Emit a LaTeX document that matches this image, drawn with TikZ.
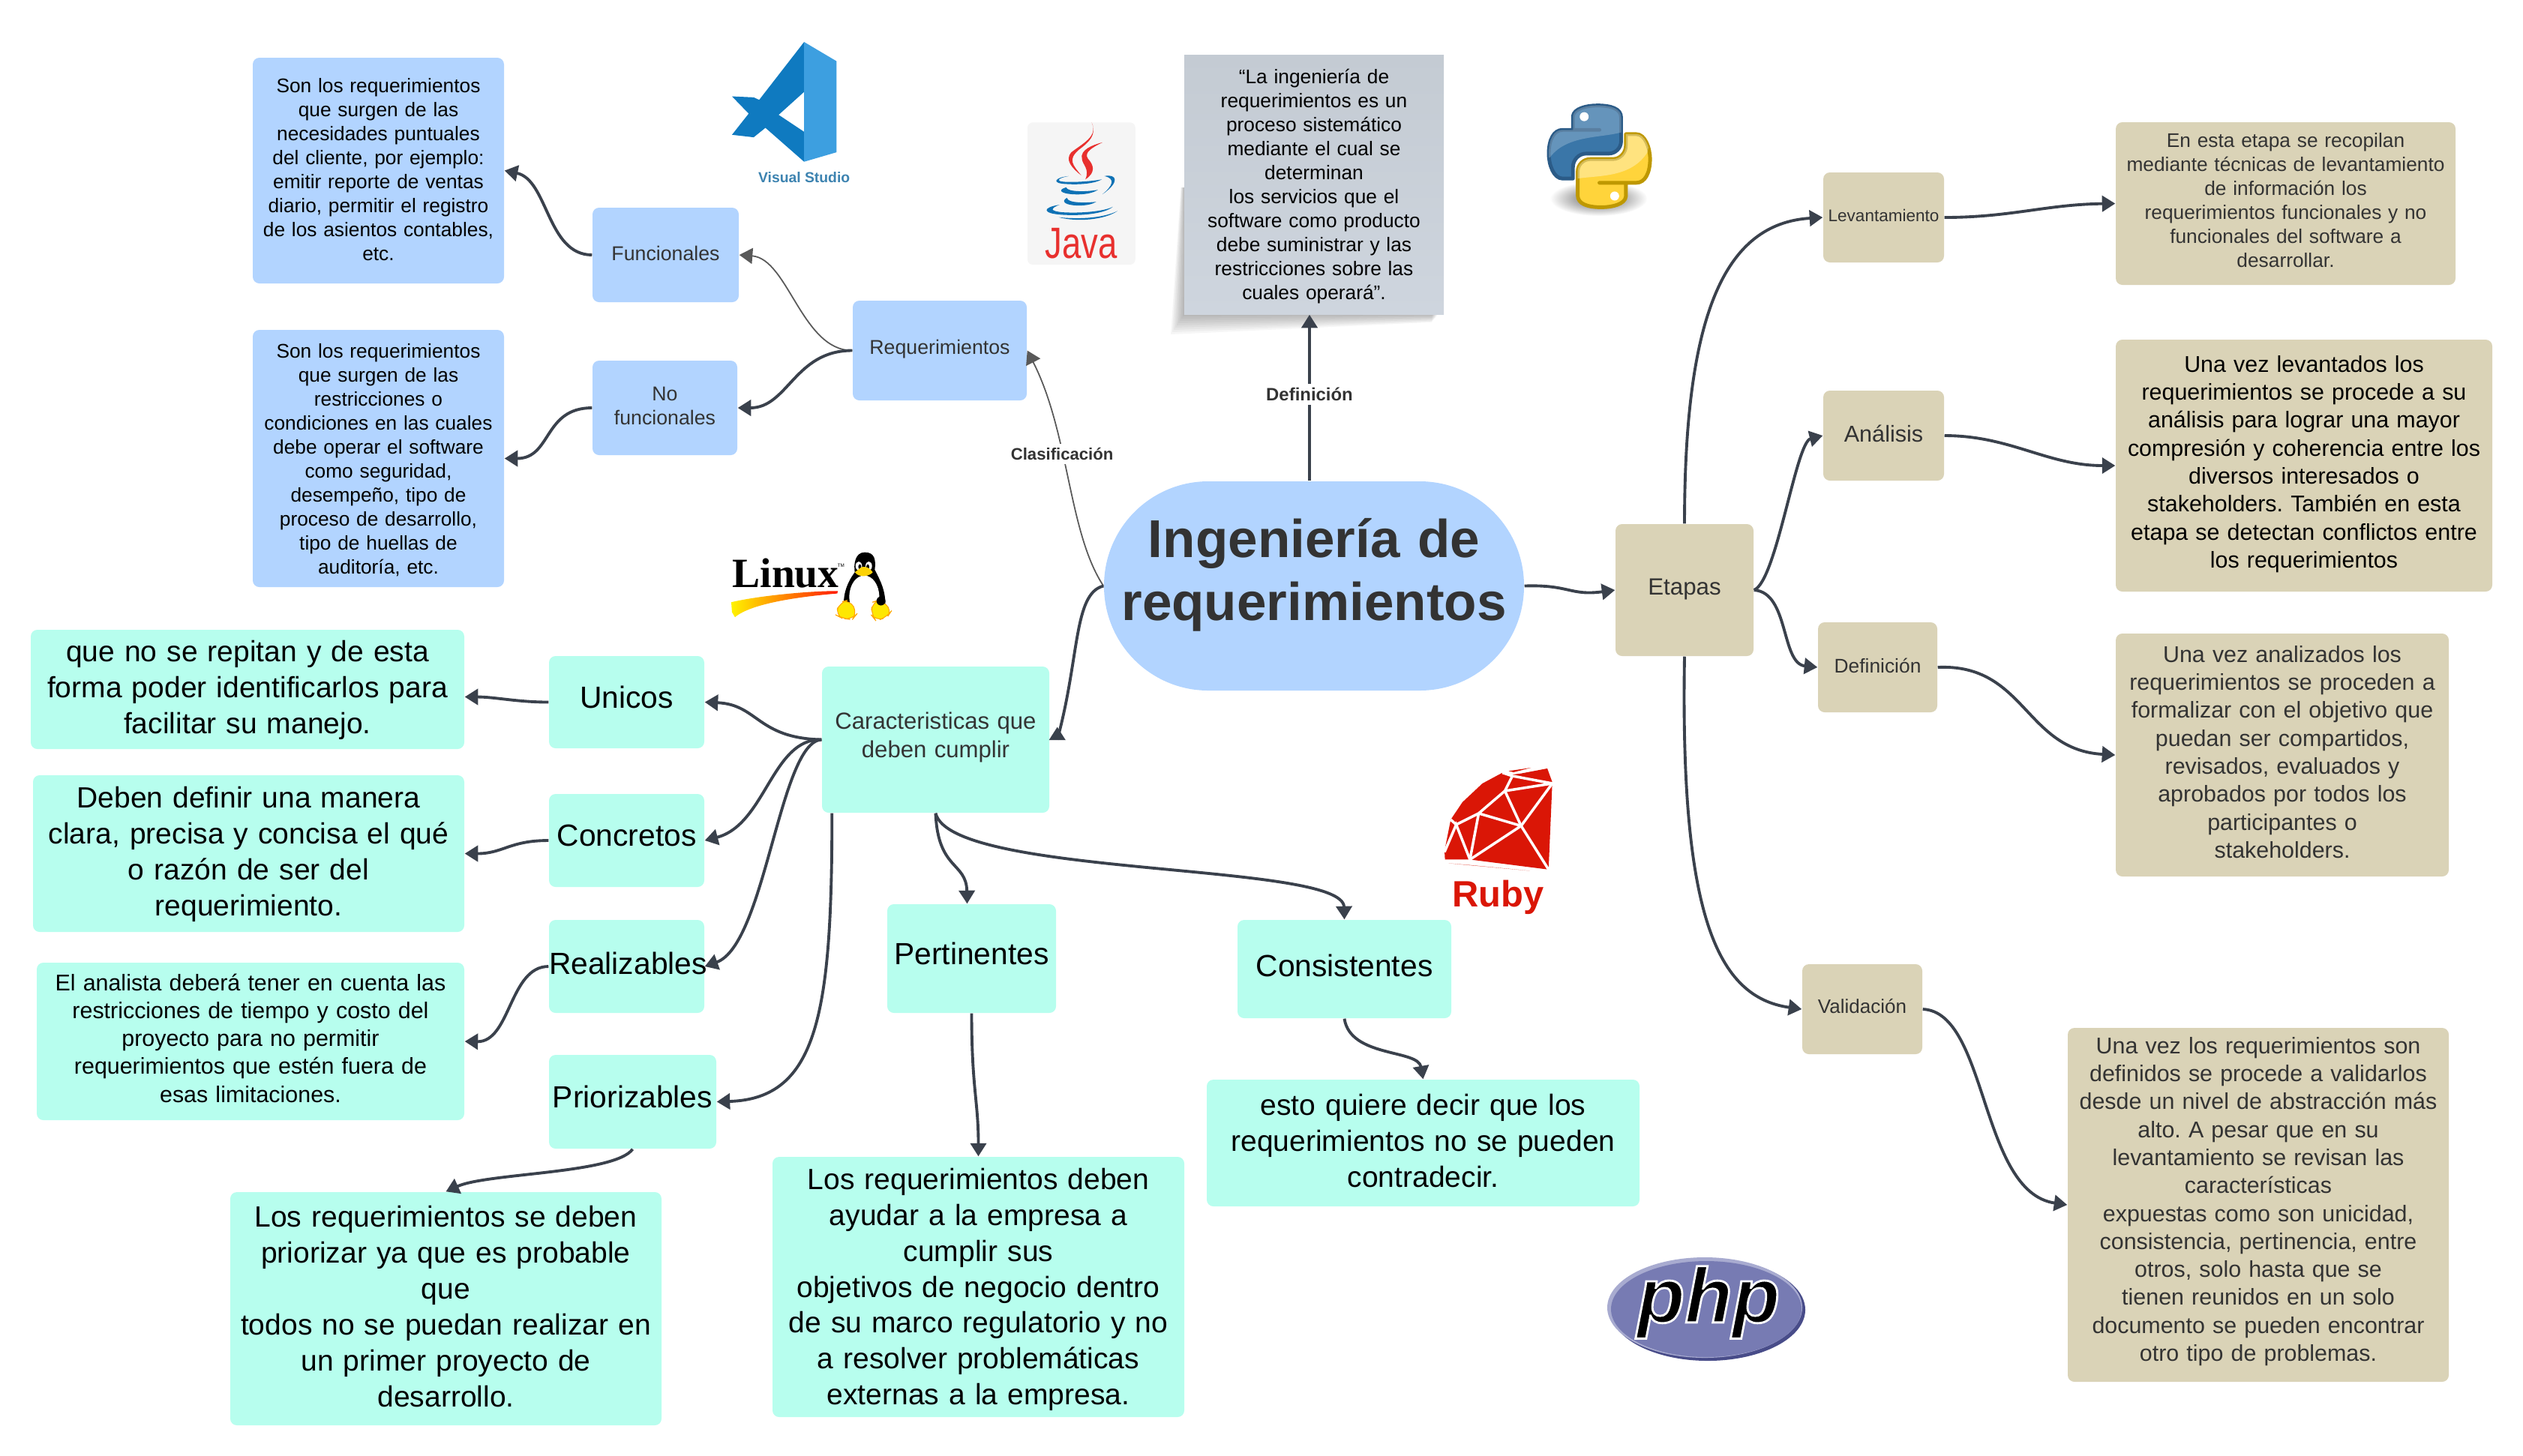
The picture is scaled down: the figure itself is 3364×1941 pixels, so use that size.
\documentclass[tikz,border=0pt]{standalone}
\usepackage{fontspec}
\setmainfont{Liberation Sans}
\newfontfamily\serifbold{Liberation Serif}
\usetikzlibrary{arrows.meta}
\usetikzlibrary{calc}

\newdimen\pxu
\pxu=0.01cm

\definecolor{boxblue}{HTML}{B2D4FF}
\definecolor{boxmint}{HTML}{B7FEEE}
\definecolor{boxtan}{HTML}{DAD3B7}
\definecolor{quotetop}{HTML}{C4CBD3}
\definecolor{quotebot}{HTML}{CED5DE}
\definecolor{linkdark}{HTML}{3A414C}
\definecolor{linkgrey}{HTML}{595959}
\definecolor{txtdark}{HTML}{333333}
\definecolor{rubyred}{HTML}{DA1606}
\definecolor{javared}{HTML}{E8302E}
\definecolor{javablue}{HTML}{0F72B5}
\definecolor{vsdark}{HTML}{0F7AC0}
\definecolor{vslight}{HTML}{3D9FE0}
\definecolor{vstxt}{HTML}{3D83B0}
\definecolor{pyblue}{HTML}{3A76A8}
\definecolor{pyblueline}{HTML}{2B5B87}
\definecolor{pyyellow}{HTML}{FFD43B}
\definecolor{pyyellowline}{HTML}{BE9800}
\definecolor{phpmain}{HTML}{777BB3}
\definecolor{phpdark}{HTML}{484C89}
\definecolor{phplight}{HTML}{A8ABD0}

\newcommand{\pysnake}{(172,160) -- (172,105) .. controls (175,75) and (225,62) .. (270,62) .. controls (325,62) and (365,75) .. (365,110) -- (365,205) .. controls (365,235) and (340,255) .. (315,255) -- (225,255) .. controls (195,255) and (172,280) .. (172,310) -- (172,355) -- (130,355) .. controls (95,355) and (75,300) .. (75,255) .. controls (75,200) and (95,160) .. (130,160) -- (278,160) -- cycle}

\tikzset{
    sized/.style 2 args={minimum width=#1\pxu, minimum height=#2\pxu, text width=#1\pxu, inner sep=0pt, align=center, rounded corners=2.5pt},
    lift/.style={execute at end node={\par\vskip#1\pxu\hrule height 0pt}},
    smalltxt/.style={font=\fontsize{7.48}{9.1}\selectfont},
    midtxt/.style={font=\fontsize{8.65}{10.6}\selectfont},
    bigtxt/.style={font=\fontsize{11.1}{13.6}\selectfont},
    bluebox/.style={fill=boxblue, text=txtdark},
    mintbox/.style={fill=boxmint, text=black},
    tanbox/.style={fill=boxtan, text=txtdark},
    link/.style={draw=linkdark, line width=1.1pt, -{Triangle[length=5pt,width=6pt]}},
    thinlink/.style={draw=linkgrey, line width=.5pt, -{Triangle[length=5pt,width=6pt]}},
    edgelabel/.style={fill=white, inner sep=1.5pt, text=txtdark, font=\fontsize{#1}{8}\selectfont\bfseries},
    zoomed/.style={shift={#1}, x=0.00333cm, y=-0.00333cm},
}

\begin{document}
\frenchspacing
\begin{tikzpicture}[x=0.01cm,y=-0.01cm]
    \useasboundingbox (0,0) rectangle (3364,1941);

    % soft shadow of the quote
    \foreach \j in {1,...,9}
        \fill[black, opacity=.035] (1585,250) -- ({1579-.5*\j},250) -- ({1579-2*\j},{419+3*\j}) -- ({1918-\j},{419+1.2*\j}) -- (1918,300) -- cycle;

    % centre
    \node[bluebox, sized={560}{279}, lift=30, rounded corners=1.39cm, font=\fontsize{20.2}{23.8}\selectfont\bfseries] (main) at (1752,781.5) {Ingeniería de\\requerimientos};
    \node[sized={346}{346}, lift=-6, rounded corners=0pt, smalltxt, top color=quotetop, bottom color=quotebot, text=black] (quote) at (1752,246) {“La ingeniería de\\requerimientos es un\\proceso sistemático\\mediante el cual se\\determinan\\los servicios que el\\software como producto\\debe suministrar y las\\restricciones sobre las\\cuales operará”.};

    % blue branch
    \node[bluebox, sized={232}{133}, lift=4, font=\fontsize{7.6}{9}\selectfont] (req) at (1253,467.5) {Requerimientos};
    \node[bluebox, sized={195}{126}, lift=4, font=\fontsize{7.6}{9}\selectfont] (func) at (887.5,340) {Funcionales};
    \node[bluebox, sized={193}{126}, lift=6, font=\fontsize{7.6}{9.1}\selectfont] (nofunc) at (886.5,544) {No\\funcionales};
    \node[bluebox, sized={335}{301}, lift=2, smalltxt, text=black] (functxt) at (504.5,227.5) {Son los requerimientos\\que surgen de las\\necesidades puntuales\\del cliente, por ejemplo:\\emitir reporte de ventas\\diario, permitir el registro\\de los asientos contables,\\etc.};
    \node[bluebox, sized={335}{343}, lift=-4, smalltxt, text=black] (nofunctxt) at (504.5,611.5) {Son los requerimientos\\que surgen de las\\restricciones o\\condiciones en las cuales\\debe operar el software\\como seguridad,\\desempeño, tipo de\\proceso de desarrollo,\\tipo de huellas de\\auditoría, etc.};

    % mint branch
    \node[mintbox, sized={303}{195}, lift=6, font=\fontsize{8.85}{10.6}\selectfont, text=txtdark] (carac) at (1247.5,986.5) {Caracteristicas que\\deben cumplir};
    \node[mintbox, sized={207}{123}, lift=13, font=\fontsize{11.6}{13}\selectfont] (unicos) at (835.5,936.5) {Unicos};
    \node[mintbox, sized={207}{124}, lift=13, font=\fontsize{11.6}{13}\selectfont] (concretos) at (835.5,1121) {Concretos};
    \node[mintbox, sized={207}{124}, lift=9, font=\fontsize{11.6}{13}\selectfont] (realiz) at (835.5,1289) {Realizables};
    \node[mintbox, sized={223}{125}, lift=13, font=\fontsize{11.6}{13}\selectfont] (prior) at (843.5,1469.5) {Priorizables};
    \node[mintbox, sized={225}{145}, lift=13, font=\fontsize{11.6}{13}\selectfont] (pert) at (1295.5,1278.5) {Pertinentes};
    \node[mintbox, sized={285}{131}, lift=9, font=\fontsize{11.6}{13}\selectfont] (consis) at (1792.5,1292.5) {Consistentes};
    \node[mintbox, sized={578}{159}, lift=-2, bigtxt] (unicostxt) at (330,919.5) {que no se repitan y de esta\\forma poder identificarlos para\\facilitar su manejo.};
    \node[mintbox, sized={575}{209}, lift=-2, bigtxt] (concretostxt) at (331.5,1138.5) {Deben definir una manera\\clara, precisa y concisa el qué\\o razón de ser del\\requerimiento.};
    \node[mintbox, sized={570}{210}, lift=9, midtxt] (realiztxt) at (334,1389) {El analista deberá tener en cuenta las\\restricciones de tiempo y costo del\\proyecto para no permitir\\requerimientos que estén fuera de\\esas limitaciones.};
    \node[mintbox, sized={575}{311}, lift=6, bigtxt] (priortxt) at (594.5,1745.5) {Los requerimientos se deben\\priorizar ya que es probable\\que\\todos no se puedan realizar en\\un primer proyecto de\\desarrollo.};
    \node[mintbox, sized={549}{347}, lift=-7, bigtxt] (perttxt) at (1304.5,1716.5) {Los requerimientos deben\\ayudar a la empresa a\\cumplir sus\\objetivos de negocio dentro\\de su marco regulatorio y no\\a resolver problemáticas\\externas a la empresa.};
    \node[mintbox, sized={577}{169}, lift=6, bigtxt] (consistxt) at (1897.5,1524.5) {esto quiere decir que los\\requerimientos no se pueden\\contradecir.};

    % tan branch
    \node[tanbox, sized={184}{176}, lift=2, font=\fontsize{8.9}{10}\selectfont] (etapas) at (2246,787) {Etapas};
    \node[tanbox, sized={161}{120}, lift=6, font=\fontsize{6.4}{8}\selectfont] (levant) at (2511.5,290) {Levantamiento};
    \node[tanbox, sized={161}{120}, lift=6, font=\fontsize{8.7}{10}\selectfont] (analisis) at (2511.5,581) {Análisis};
    \node[tanbox, sized={159}{120}, lift=4, font=\fontsize{7.5}{9}\selectfont] (defin) at (2503.5,890) {Definición};
    \node[tanbox, sized={160}{120}, lift=8, font=\fontsize{7.4}{9}\selectfont] (valid) at (2483,1346) {Validación};
    \node[tanbox, sized={453}{217}, lift=9, smalltxt] (levanttxt) at (3047.5,271.5) {En esta etapa se recopilan\\mediante técnicas de levantamiento\\de información los\\requerimientos funcionales y no\\funcionales del software a\\desarrollar.};
    \node[tanbox, sized={502}{336}, lift=4, midtxt, text=black] (analisistxt) at (3072,621) {Una vez levantados los\\requerimientos se procede a su\\análisis para lograr una mayor\\compresión y coherencia entre los\\diversos interesados o\\stakeholders. También en esta\\etapa se detectan conflictos entre\\los requerimientos};
    \node[tanbox, sized={444}{324}, lift=8, midtxt] (defintxt) at (3043,1007) {Una vez analizados los\\requerimientos se proceden a\\formalizar con el objetivo que\\puedan ser compartidos,\\revisados, evaluados y\\aprobados por todos los\\participantes o\\stakeholders.};
    \node[tanbox, sized={508}{472}, lift=9, midtxt] (validtxt) at (3011,1607) {Una vez los requerimientos son\\definidos se procede a validarlos\\desde un nivel de abstracción más\\alto. A pesar que en su\\levantamiento se revisan las\\características\\expuestas como son unicidad,\\consistencia, pertinencia, entre\\otros, solo hasta que se\\tienen reunidos en un solo\\documento se pueden encontrar\\otro tipo de problemas.};

    % connectors
    \draw[link] ([shift={(-6,0)}]main.north) -- node[pos=.52, edgelabel=6.8] (deflabel) {Definición} ([shift={(-6,0)}]quote.south);
    \draw[thinlink] (main.west) .. controls +(-47,-71) and +(56,110) .. node[pos=.6, edgelabel=6.3] (claslabel) {Clasificación} (req.east);
    \draw[link, -] (main.west) .. controls +(-40,10) and +(30,-110) .. ([shift={(10,0)}]carac.east);
    \draw[link] ([shift={(10,0)}]carac.east) -- ++(0,-17);
    \draw[link] (main.east) .. controls +(60,-2) and +(-60,8) .. (etapas.west);

    \draw[thinlink] (req.west) .. controls +(-67,0) and +(65,5) .. (func.east);
    \draw[link] (req.west) .. controls +(-77,0) and +(67,0) .. (nofunc.east);
    \draw[link] (func.west) .. controls +(-60,0) and +(58,12) .. (functxt.east);
    \draw[link] (nofunc.west) .. controls +(-65,0) and +(63,0) .. (nofunctxt.east);

    \draw[link] (carac.west) .. controls +(-86,-2) and +(71,3) .. (unicos.east);
    \draw[link] (carac.west) .. controls +(-66,-2) and +(81,-21) .. (concretos.east);
    \draw[link] (carac.west) .. controls +(-56,3) and +(81,-29) .. (realiz.east);
    \draw[link] ([shift={(14,0)}]carac.south west) .. controls +(0,266) and +(135,-4) .. (prior.east);
    \draw[link] (carac.south) .. controls +(3,76) and +(-1,-56) .. ([shift={(-6,0)}]pert.north);
    \draw[link] (carac.south) .. controls +(21,86) and +(-2,-77) .. (consis.north);

    \draw[link] (unicos.west) .. controls +(-42,0) and +(40,0) .. ([shift={(0,10)}]unicostxt.east);
    \draw[link] (concretos.west) .. controls +(-52,0) and +(51,0) .. (concretostxt.east);
    \draw[link] (realiz.west) .. controls +(-52,0) and +(61,1) .. (realiztxt.east);
    \draw[link] (prior.south) .. controls +(-24,33) and +(55,-25) .. (priortxt.north);
    \draw[link] (pert.south) .. controls +(0,99) and +(0,-73) .. (perttxt.north);
    \draw[link] (consis.south) .. controls +(8,52) and +(-7,-40) .. (consistxt.north);

    \draw[link] (etapas.north) .. controls +(0,-279) and +(-131,8) .. (levant.west);
    \draw[link] (etapas.east) .. controls +(30,-12) and +(-36,9) .. (analisis.west);
    \draw[link] (etapas.east) .. controls +(47,3) and +(-49,-5) .. (defin.west);
    \draw[link] (etapas.south) .. controls +(-6,345) and +(-113,-16) .. (valid.west);
    \draw[link] (levant.east) .. controls +(88,0) and +(-91,1) .. (levanttxt.west);
    \draw[link] (analisis.east) .. controls +(88,0) and +(-91,0) .. (analisistxt.west);
    \draw[link] (defin.east) .. controls +(117,-5) and +(-121,-7) .. (defintxt.west);
    \draw[link] (valid.east) .. controls +(87,4) and +(-117,-17) .. (validtxt.west);

    % Visual Studio logo
    \begin{scope}[zoomed={(950,40)}]
        \fill[vsdark] (367,48) -- (367,248) -- (265,340) -- (367,408) -- (367,528) -- (212,392) -- (165,430) -- (78,420) -- (145,335) -- (78,266) -- (165,270) -- (187,280) -- cycle;
        \fill[vslight] (367,48) -- (497,125) -- (497,490) -- (367,528) -- cycle;
        \node[text=vstxt, font=\fontsize{5.5}{7}\selectfont\bfseries] (vstext) at (367,592) {Visual Studio};
    \end{scope}

    % Java logo
    \begin{scope}[zoomed={(1360,150)}]
        \fill[black!4, rounded corners=2pt] (30,40) rectangle (462,610);
        \fill[javared] (287,40) .. controls (315,95) and (250,125) .. (205,160) .. controls (180,190) and (205,220) .. (245,252) .. controls (212,210) and (190,190) .. (235,150) .. controls (275,120) and (310,90) .. (287,40);
        \fill[javared] (330,120) .. controls (290,130) and (240,150) .. (248,185) .. controls (250,210) and (280,225) .. (262,268) .. controls (305,240) and (295,210) .. (272,185) .. controls (255,160) and (290,140) .. (330,120);
        \fill[javablue] (195,255) .. controls (140,260) and (120,285) .. (190,287) .. controls (240,290) and (300,285) .. (328,268) .. controls (280,278) and (150,285) .. (155,270) .. controls (160,262) and (180,258) .. (195,255);
        \fill[javablue] (338,255) .. controls (390,245) and (400,280) .. (330,328) .. controls (370,295) and (385,265) .. (338,255);
        \fill[javablue] (185,300) .. controls (150,310) and (160,325) .. (215,328) .. controls (250,330) and (290,325) .. (312,310) .. controls (270,318) and (190,320) .. (185,300);
        \fill[javablue] (188,342) .. controls (165,355) and (175,372) .. (235,373) .. controls (265,373) and (290,368) .. (305,358) .. controls (270,362) and (190,365) .. (188,342);
        \fill[javablue] (158,370) .. controls (90,380) and (85,405) .. (170,410) .. controls (250,415) and (340,405) .. (372,378) .. controls (340,395) and (250,405) .. (170,400) .. controls (120,395) and (120,385) .. (158,370);
        \fill[javablue] (155,420) .. controls (230,440) and (340,430) .. (390,395) .. controls (340,420) and (250,430) .. (155,420);
        \node[text=javared, xscale=.78, font=\fontsize{16.6}{18}\selectfont] (javatext) at (245,525) {Java};
    \end{scope}

    % Python logo
    \begin{scope}[zoomed={(2040,120)}]
        \shade[inner color=black!65, outer color=white] (275,435) ellipse (195 and 70);
        \filldraw[fill=pyblue, draw=pyblueline, line width=1.4pt, line join=round] \pysnake;
        \begin{scope}
            \clip \pysnake;
            \fill[white, opacity=.22] (60,40) -- (380,40) -- (380,165) .. controls (300,195) and (150,175) .. (80,270) -- (60,270) -- cycle;
        \end{scope}
        \fill[white] (217,107) circle (18);
        \begin{scope}[rotate around={180:(278,266)}]
            \filldraw[fill=pyyellow, draw=pyyellowline, line width=1.4pt, line join=round] \pysnake;
            \begin{scope}
                \clip \pysnake;
                \fill[white, opacity=.35] (366,177) .. controls (280,190) and (150,180) .. (86,282) -- (60,400) -- (380,400) -- cycle;
            \end{scope}
            \fill[white] (217,107) circle (18);
        \end{scope}
    \end{scope}

    % Linux logo
    \begin{scope}[zoomed={(960,720)}]
        \node[text=black, font=\fontsize{15.8}{18}\selectfont\serifbold\bfseries] (linuxtext) at (263,135) {Linux};
        \node[text=black, font=\fontsize{1.8}{2}\selectfont] (linuxtm) at (485,103) {TM};
        \shade[left color=yellow!90!orange, right color=red!80!orange] (45,250) .. controls (150,225) and (350,205) .. (472,205) -- (470,215) .. controls (350,225) and (130,250) .. (60,310) -- (48,290) -- cycle;
        \fill[black] (580,50) .. controls (540,50) and (535,100) .. (540,130) .. controls (510,170) and (490,220) .. (497,280) -- (660,280) .. controls (670,210) and (640,160) .. (620,120) .. controls (625,80) and (620,50) .. (580,50);
        \fill[white] (578,228) ellipse (60 and 85);
        \fill[white] (556,105) ellipse (13 and 18) (596,105) ellipse (13 and 18);
        \fill[black] (560,108) ellipse (6 and 10) (592,108) ellipse (6 and 10);
        \fill[yellow!70!orange] (540,130) .. controls (555,120) and (565,105) .. (580,108) .. controls (595,110) and (605,120) .. (612,130) .. controls (600,145) and (560,155) .. (540,130);
        \filldraw[fill=yellow!90!orange, draw=orange!70!yellow, line width=.3pt, rounded corners=3pt] (480,250) -- (520,240) -- (550,295) -- (530,320) -- (490,315) -- (462,300) -- cycle;
        \filldraw[fill=yellow!90!orange, draw=orange!70!yellow, line width=.3pt, rounded corners=3pt] (610,250) -- (640,240) -- (690,280) -- (670,310) -- (625,325) -- (605,300) -- cycle;
        \fill[black] (645,245) circle (18);
    \end{scope}

    % Ruby logo
    \begin{scope}[zoomed={(1900,1000)}]
        \fill[rubyred] (490,75) -- (510,130) -- (495,480) -- (180,440) -- (80,440) -- (78,405) -- (103,280) -- (150,210) -- (230,135) -- (310,92) -- (345,100) -- (385,95) -- cycle;
        \fill[rubyred] (335,85) -- (425,72) -- (355,90) -- cycle;
        \fill[rubyred] (95,455) -- (420,485) -- (180,462) -- cycle;
        \draw[white, line width=1pt] (310,92) -- (350,105) -- (510,135) -- (320,165) -- (350,105);
        \draw[white, line width=1pt] (510,135) -- (385,305) -- (495,480);
        \draw[white, line width=1pt] (320,165) -- (385,305) -- (180,440) -- (125,300) -- (78,410);
        \draw[white, line width=1pt] (320,165) -- (215,255) -- (125,300) -- (103,280);
        \draw[white, line width=1pt] (215,255) -- (385,305);
        \draw[white, line width=1pt] (215,255) -- (180,440);
        \node[text=rubyred, font=\fontsize{13.9}{16}\selectfont\bfseries] (rubytext) at (292,590) {Ruby};
    \end{scope}

    % PHP logo
    \fill[phpdark] (2277,1747) ellipse (130 and 68);
    \fill[phplight] (2273,1744) ellipse (130 and 67);
    \fill[phpmain] (2275,1746) ellipse (127 and 64);
    \node[text=black, font=\fontsize{29.5}{32}\selectfont\bfseries\itshape] (phptext) at (2278,1737) {\special{pdf:code q 2 Tr 1 1 1 RG 0.8 w}php\special{pdf:code Q}};
\end{tikzpicture}
\end{document}
